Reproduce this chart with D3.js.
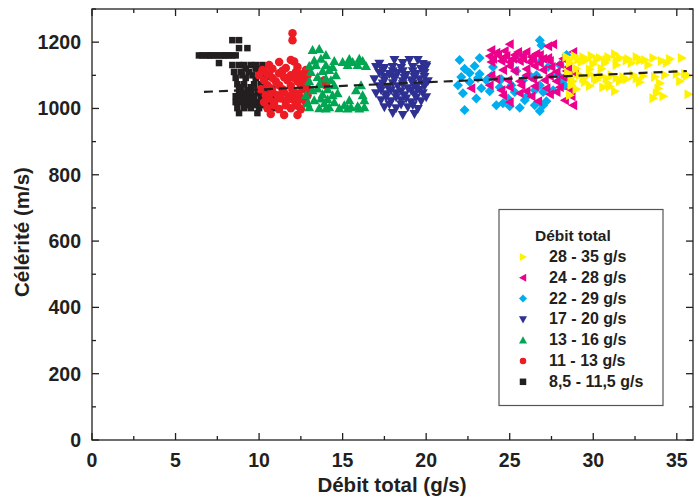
<!DOCTYPE html>
<html><head><meta charset="utf-8">
<script src="https://cdn.jsdelivr.net/npm/d3@7"></script>
<style>body{margin:0;background:#fff}svg{display:block}text{font-family:"Liberation Sans",Arial,sans-serif;font-weight:bold;fill:#231f20}</style>
</head><body><svg id="c" width="695" height="502"></svg>
<script>
const xTicks=[0,5,10,15,20,25,30,35];
const yTicks=[0,200,400,600,800,1000,1200];
const legendLabels=["28 - 35 g/s","24 - 28 g/s","22 - 29 g/s","17 - 20 g/s","13 - 16 g/s","11 - 13 g/s","8,5 - 11,5 g/s"];
const trend=[[6.7,1050],[35.6,1113]];

const black=[[8.4,1206],[8.8,1206],[8.8,1182],[9.3,1182],
[6.4,1160],[6.6,1160],[6.8,1160],[7.0,1160],[7.1,1160],[7.3,1160],[7.5,1160],[7.7,1160],[7.9,1160],[8.0,1160],[8.2,1160],[8.4,1160],[8.6,1160],[7.6,1137],
[8.4,1131],[8.8,1131],[9.1,1131],[9.5,1131],[9.8,1131],[10.2,1131],[9.2,1120],[9.8,1120],[10.2,1120],
[8.5,1110],[8.9,1110],[9.4,1110],[10.0,1115],[9.0,1100],[9.6,1100],[8.6,1092],[9.2,1092],[9.8,1092],[10.4,1095],[10.3,1082],
[8.7,1073],[9.1,1073],[9.7,1073],[10.1,1073],[8.9,1064],[9.5,1064],[8.8,1055],[9.3,1055],[9.9,1055],[10.4,1055],[10.8,1060],
[9.0,1046],[9.5,1046],[10.0,1046],[10.5,1046],
[8.6,1037],[8.9,1037],[9.3,1037],[9.7,1037],[10.1,1037],[10.6,1037],[9.2,1028],[9.6,1028],[10.3,1028],[10.8,1028],
[8.6,1019],[8.9,1019],[9.4,1019],[9.8,1019],[10.1,1019],[10.5,1019],[10.9,1019],[9.2,1010],[9.7,1010],[10.3,1010],[10.7,1010],
[8.7,1001],[9.1,1001],[9.5,1001],[10.0,1001],[10.5,1001],[10.9,1001],[8.8,986],[9.9,986]];
const red=[[12.0,1227],[12.0,1206],[11.9,1146],[10.6,1131],[11.2,1140],[12.1,1142],
[10.2,1116],[10.8,1120],[11.6,1122],[12.3,1125],[12.8,1116],[10.4,1110],[11.4,1114],[12.2,1110],
[10.0,1100],[10.6,1103],[11.2,1106],[11.9,1100],[12.5,1103],[12.9,1100],[10.8,1092],[11.5,1094],[12.1,1092],[12.7,1090],
[10.3,1085],[11.0,1082],[11.7,1085],[12.3,1082],[12.9,1079],[10.5,1070],[11.2,1070],[11.9,1068],[12.5,1070],
[10.1,1058],[10.7,1061],[11.4,1058],[12.0,1055],[12.6,1058],[12.9,1060],[10.8,1050],[11.5,1048],[12.2,1046],
[10.4,1040],[11.1,1040],[11.8,1037],[12.4,1037],[12.9,1040],[10.6,1030],[11.3,1030],[12.0,1028],[12.6,1028],
[10.3,1019],[10.9,1019],[11.6,1022],[12.2,1016],[12.8,1019],[10.9,1010],[11.6,1010],[12.3,1008],
[10.5,1001],[11.2,998],[11.9,1001],[12.5,998],[10.7,983],[11.5,980],[12.3,980],[13.9,1085],[14.0,1070]];
const green=[[13.2,1176],[13.6,1179],[14.0,1161],[14.5,1143],[15.4,1149],[16.2,1143],[15.9,1131],[15.3,1131],[16.4,1128],
[13.3,1145],[13.7,1150],[14.0,1130],[14.4,1125],[15.0,1140],[15.6,1140],[16.0,1150],
[13.0,1128],[13.4,1131],[13.8,1113],[13.1,1110],[13.5,1095],[14.2,1116],[14.6,1100],[14.3,1085],[14.0,1090],
[13.0,1082],[13.6,1073],[14.1,1058],[14.5,1070],[13.5,1060],[13.2,1055],[13.8,1043],[14.4,1040],[14.7,1046],[13.7,1030],[14.1,1028],[13.3,1025],[13.9,1016],[14.5,1019],
[13.0,1004],[13.6,1001],[14.0,1000],[14.2,1004],[14.8,1001],[15.1,1010],[15.3,1000],[15.5,1004],[15.9,1007],[16.0,1000],[16.3,1004],
[16.3,1025],[15.4,1025],[16.2,1040],[16.1,1070],[15.8,1055],[12.8,1040],[12.9,1016]];
const navy=[[18.1,1146],[19.0,1146],[19.5,1146],[18.6,1137],[19.8,1134],[20.0,1130],[17.2,1135],
[17.0,1125],[17.5,1122],[18.0,1125],[18.5,1122],[19.2,1125],[19.7,1119],[20.0,1125],
[17.4,1115],[18.0,1112],[18.6,1112],[19.2,1112],[19.8,1115],
[17.2,1107],[17.8,1104],[18.3,1107],[18.8,1101],[19.4,1104],[19.9,1107],
[17.5,1095],[18.1,1095],[18.7,1092],[19.3,1095],[19.9,1095],
[16.9,1088],[17.5,1085],[18.1,1088],[18.6,1082],[19.1,1085],[19.6,1088],[20.1,1082],
[17.4,1075],[18.0,1076],[18.6,1073],[19.2,1075],[19.8,1076],
[17.2,1067],[17.7,1064],[18.3,1067],[18.9,1061],[19.4,1064],[19.9,1067],
[17.3,1055],[17.9,1055],[18.5,1052],[19.1,1054],[19.6,1056],
[17.0,1046],[17.6,1043],[18.2,1046],[18.7,1040],[19.3,1043],[19.8,1046],
[17.6,1034],[18.2,1034],[18.8,1030],[19.4,1032],[20.0,1034],
[17.3,1025],[17.9,1022],[18.5,1025],[19.1,1019],[19.7,1022],[17.8,1012],[18.5,1012],[19.2,1010],
[17.5,1004],[18.2,1001],[18.9,1004],[19.5,998],[18.0,986],[18.6,980],[19.3,983]];
const cyan=[[22.0,1146],[23.2,1152],[22.1,1095],[22.2,1046],[22.3,995],[22.6,1107],[22.9,1128],[23.2,1104],[23.3,1061],[23.0,1030],
[22.3,1120],[22.6,1080],[23.1,1092],[23.9,1098],[24.4,1064],[25.3,1050],[25.9,1025],[26.3,1095],[26.9,1145],[27.3,1125],[27.0,1050],[27.9,1100],[26.5,1010],[25.6,1002],[24.9,1030],
[23.8,1052],[24.2,1010],[24.6,1016],[25.0,1007],[24.5,1088],[25.1,1070],[25.6,1161],[25.8,1085],[26.1,1040],[26.5,1055],
[26.8,1206],[26.9,1191],[26.6,1100],[26.8,1070],[26.8,992],[27.0,1010],[27.2,1022],[27.6,1055],[28.1,1085],[28.3,1070],[28.4,1161],[28.0,1131],
[24.0,1125],[25.4,1113],[21.9,1070],[23.6,1085]];
const magenta=[[25.0,1194],[23.9,1176],[24.7,1173],[27.3,1188],[27.6,1194],[28.8,1170],
[24.2,1168],[25.5,1170],[26.0,1170],[26.6,1165],
[23.8,1158],[24.3,1161],[24.8,1158],[25.3,1161],[25.8,1158],[26.3,1155],[26.8,1161],[27.3,1152],
[24.0,1150],[24.6,1152],[25.2,1150],[25.8,1150],[26.4,1148],[27.0,1150],[28.2,1150],
[23.9,1140],[24.5,1143],[25.0,1140],[25.6,1143],[26.2,1140],[26.8,1137],[27.4,1143],[28.0,1134],
[28.5,1125],[27.5,1125],[26.5,1128],[25.0,1128],
[24.6,1116],[25.3,1113],[26.0,1119],[27.0,1116],[27.8,1110],[28.4,1113],[28.9,1107],
[23.9,1100],[26.0,1100],[27.4,1098],[28.2,1095],
[24.2,1088],[24.9,1085],[25.6,1082],[26.4,1088],[27.1,1085],[27.8,1082],[28.5,1088],
[22.7,1061],[23.8,1070],[25.0,1064],[25.7,1070],[26.5,1067],[27.2,1061],[28.0,1064],[28.6,1058],
[24.5,1055],[26.0,1052],[27.8,1050],
[24.6,1040],[25.6,1046],[26.3,1037],[27.4,1043],[28.7,1037],[28.3,1025],[25.0,1019],[26.7,1022],[28.8,1010]];
const yellow=[[28.4,1155],[28.9,1158],[29.4,1155],[29.9,1158],[30.4,1152],[30.9,1155],[31.3,1164],[31.6,1152],[32.1,1149],[32.6,1155],[33.1,1146],[33.6,1152],[34.1,1143],[34.6,1149],[35.3,1152],
[28.6,1148],[29.1,1148],[29.6,1146],[30.2,1148],[30.8,1146],[31.4,1145],[32.0,1145],[32.8,1145],
[28.6,1137],[29.3,1140],[30.0,1134],[30.7,1137],[31.4,1131],[32.3,1137],[33.3,1131],[34.4,1137],
[29.0,1120],[29.8,1118],[30.5,1120],
[28.5,1107],[29.2,1101],[29.8,1104],[30.5,1098],[31.1,1101],[31.8,1095],[32.4,1101],[33.0,1098],[33.7,1095],[34.3,1101],[35.0,1104],[35.6,1098],[35.5,1105],
[28.7,1095],[29.4,1090],[30.1,1092],[30.8,1090],[31.4,1092],[32.0,1088],[32.6,1090],
[28.8,1082],[29.5,1079],[30.2,1085],[30.9,1076],[31.6,1082],[32.8,1079],[34.0,1076],[35.2,1082],
[28.7,1070],[29.8,1068],[31.0,1066],[33.9,1060],
[29.0,1058],[30.6,1064],[31.3,1052],[33.8,1046],[34.2,1037],[33.6,1031],[35.7,1043],[28.6,1040]];

const svg=d3.select("#c");
const L=92,R=693,T=9,B=440;
const x=d3.scaleLinear().domain([0,36]).range([L,R+0.5]);
const y=d3.scaleLinear().domain([0,1300]).range([B,T]);

function tri(dir,s){const h=s/2;
  if(dir==="up")return `M0,${-h}L${h},${h*0.8}L${-h},${h*0.8}Z`;
  if(dir==="down")return `M0,${h}L${h},${-h*0.8}L${-h},${-h*0.8}Z`;
  if(dir==="right")return `M${h},0L${-h*0.8},${h}L${-h*0.8},${-h}Z`;
  return `M${-h},0L${h*0.8},${h}L${h*0.8},${-h}Z`;}
const shapes={
  square:s=>`M${-s/2},${-s/2}h${s}v${s}h${-s}Z`,
  circle:s=>{const r=s/2;return `M${r},0A${r},${r} 0 1,1 ${-r},0A${r},${r} 0 1,1 ${r},0Z`;},
  up:s=>tri("up",s),down:s=>tri("down",s),right:s=>tri("right",s),left:s=>tri("left",s),
  diamond:s=>{const h=s/2;return `M0,${-h}L${h},0L0,${h}L${-h},0Z`;}
};
const series=[
  {data:black,color:"#231f20",shape:"square",size:6.5},
  {data:red,color:"#ed1c24",shape:"circle",size:8.5},
  {data:green,color:"#00a651",shape:"up",size:10},
  {data:navy,color:"#2e3192",shape:"down",size:10},
  {data:cyan,color:"#00aeef",shape:"diamond",size:10},
  {data:magenta,color:"#ec008c",shape:"left",size:10},
  {data:yellow,color:"#fff200",shape:"right",size:10}
];
series.forEach(s=>{
  svg.append("g").selectAll("path").data(s.data).join("path")
    .attr("transform",d=>`translate(${x(d[0])},${y(d[1])})`)
    .attr("d",shapes[s.shape](s.size)).attr("fill",s.color);
});
svg.append("path").attr("d",d3.line().x(d=>x(d[0])).y(d=>y(d[1]))(trend))
  .attr("stroke","#231f20").attr("stroke-width",2.2).attr("fill","none").attr("stroke-dasharray","9,6");

const ax=svg.append("g").attr("stroke","#231f20").attr("stroke-width",1.3);
ax.append("rect").attr("x",L).attr("y",T).attr("width",R-L).attr("height",B-T).attr("fill","none");
const xMinor=d3.range(0,36.01,2.5), yMinor=d3.range(0,1301,100);
xMinor.forEach(v=>{const major=v%5===0;const len=major?7:4;
  ax.append("line").attr("x1",x(v)).attr("x2",x(v)).attr("y1",B).attr("y2",B-len);
  ax.append("line").attr("x1",x(v)).attr("x2",x(v)).attr("y1",T).attr("y2",T+len);});
yMinor.forEach(v=>{const major=v%200===0;const len=major?7:4;
  ax.append("line").attr("y1",y(v)).attr("y2",y(v)).attr("x1",L).attr("x2",L+len);
  ax.append("line").attr("y1",y(v)).attr("y2",y(v)).attr("x1",R).attr("x2",R-len);});
svg.append("g").selectAll("text").data(xTicks).join("text")
  .attr("x",d=>x(d)).attr("y",467).attr("text-anchor","middle").attr("font-size",19.5).text(d=>d);
svg.append("g").selectAll("text").data(yTicks).join("text")
  .attr("x",81).attr("y",d=>y(d)+7).attr("text-anchor","end").attr("font-size",19.5).text(d=>d);
svg.append("text").attr("x",392).attr("y",492).attr("text-anchor","middle").attr("font-size",20.5).text("Débit total (g/s)");
svg.append("text").attr("transform","translate(29,232) rotate(-90)").attr("text-anchor","middle").attr("font-size",20.5).text("Célérité (m/s)");

const lg=svg.append("g");
lg.append("rect").attr("x",499).attr("y",209.5).attr("width",164).attr("height",196).attr("fill","#fff").attr("stroke","#555").attr("stroke-width",1.2);
lg.append("text").attr("x",535).attr("y",241).attr("font-size",15.5).text("Débit total");
const legOrder=[6,5,4,3,2,1,0];
legOrder.forEach((si,i)=>{const s=series[si];const cy=257+i*20.8;
  lg.append("path").attr("transform",`translate(523,${cy})`).attr("d",shapes[s.shape](s.shape==="square"||s.shape==="circle"?6.5:8)).attr("fill",s.color);
  lg.append("text").attr("x",549).attr("y",cy+5).attr("font-size",16).text(legendLabels[i]);
});
</script></body></html>
